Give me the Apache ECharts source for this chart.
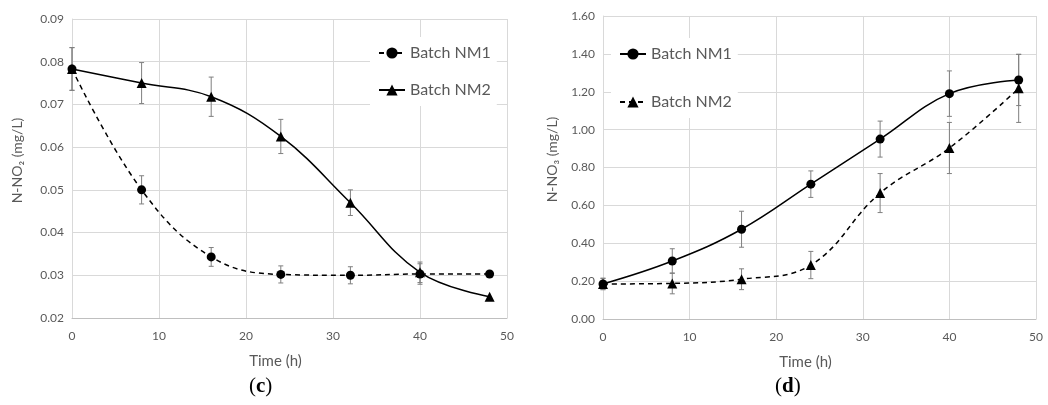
<!DOCTYPE html>
<html>
<head>
<meta charset="utf-8">
<script src="https://cdn.jsdelivr.net/npm/echarts@6/dist/echarts.min.js"></script>
<style>
  html, body { margin: 0; padding: 0; background: #fff; }
  #chart { width: 1048px; height: 405px; }
</style>
</head>
<body>
<div id="chart"></div>
<script>
// sampling times (h), shared by both panels
const hours = [0, 8, 16, 24, 32, 40, 48];

// panel (c): N-NO2
const no2Nm1 = [0.0783, 0.0500, 0.0343, 0.0302, 0.0300, 0.0303, 0.0303];
const no2Nm1Err = [0.0050, 0.0033, 0.0022, 0.0020, 0.0020, 0.0024, 0.0000];
const no2Nm2 = [0.0783, 0.0750, 0.0718, 0.0625, 0.0470, 0.0307, 0.0250];
const no2Nm2Err = [0.0050, 0.0048, 0.0046, 0.0040, 0.0030, 0.0024, 0.0000];

// panel (d): N-NO3
const no3Nm1 = [0.185, 0.306, 0.474, 0.712, 0.950, 1.190, 1.262];
const no3Nm1Err = [0.030, 0.065, 0.095, 0.070, 0.095, 0.120, 0.135];
const no3Nm2 = [0.185, 0.188, 0.210, 0.285, 0.665, 0.903, 1.218];
const no3Nm2Err = [0.030, 0.055, 0.055, 0.072, 0.103, 0.135, 0.180];

const FONT = 'Lato';
const GREY = '#595959';

const toPairs = (vals) => hours.map((h, i) => [h, vals[i]]);
const toErr = (vals, err) => hours.map((h, i) => [h, vals[i] - err[i], vals[i] + err[i]]);

function errorBars(idx, vals, err) {
  return {
    type: 'custom',
    xAxisIndex: idx,
    yAxisIndex: idx,
    silent: true,
    z: 1,
    data: toErr(vals, err),
    encode: { x: 0, y: [1, 2] },
    renderItem: (params, api) => {
      if (api.value(2) - api.value(1) <= 0) return null;
      const lo = api.coord([api.value(0), api.value(1)]);
      const hi = api.coord([api.value(0), api.value(2)]);
      const w = 2.5;
      const style = { stroke: '#7f7f7f', lineWidth: 1 };
      return {
        type: 'group',
        children: [
          { type: 'line', shape: { x1: lo[0], y1: lo[1], x2: hi[0], y2: hi[1] }, style },
          { type: 'line', shape: { x1: lo[0] - w, y1: lo[1], x2: lo[0] + w, y2: lo[1] }, style },
          { type: 'line', shape: { x1: hi[0] - w, y1: hi[1], x2: hi[0] + w, y2: hi[1] }, style }
        ]
      };
    }
  };
}

function lineSeries(name, idx, vals, symbol, dashed) {
  return {
    name,
    type: 'line',
    xAxisIndex: idx,
    yAxisIndex: idx,
    data: toPairs(vals),
    smooth: 0.4,
    symbol,
    symbolSize: symbol === 'triangle' ? 10 : 9,
    z: 3,
    itemStyle: { color: '#000' },
    lineStyle: { color: '#000', width: 1.5, type: dashed ? [5, 4] : 'solid' }
  };
}

function xAxis(idx) {
  return {
    type: 'value',
    gridIndex: idx,
    min: 0, max: 50, interval: 10,
    name: 'Time (h)',
    nameLocation: 'middle',
    nameGap: 36,
    nameTextStyle: { color: GREY, fontSize: 15, fontFamily: FONT, padding: [0, 28, 0, 0] },
    axisLine: { lineStyle: { color: '#bfbfbf' } },
    axisTick: { show: false },
    axisLabel: { color: GREY, fontSize: 12, fontFamily: FONT, margin: 12 },
    splitLine: { lineStyle: { color: '#d9d9d9' } }
  };
}

function yAxis(idx, name, min, max, step, gap) {
  return {
    type: 'value',
    gridIndex: idx,
    min, max, interval: step,
    name,
    nameLocation: 'middle',
    nameGap: gap,
    nameRotate: 90,
    nameTextStyle: { color: GREY, fontSize: 14, fontFamily: FONT, padding: [0, 0, 0, 16] },
    axisLine: { show: true, lineStyle: { color: '#d9d9d9' } },
    axisTick: { show: false },
    axisLabel: { color: GREY, fontSize: 12, fontFamily: FONT, margin: 8, formatter: (v) => v.toFixed(2) },
    splitLine: { lineStyle: { color: '#d9d9d9' } }
  };
}

function legend(names, left, top, gap) {
  return {
    data: names,
    orient: 'vertical',
    left, top,
    itemWidth: 26,
    itemHeight: 14,
    itemGap: gap,
    padding: [8, 6, 8, 8],
    backgroundColor: '#fff',
    selectedMode: false,
    formatter: (n) => n.slice(2),
    textStyle: { color: GREY, fontSize: 16, fontFamily: FONT, lineHeight: 14 }
  };
}

function panelLabel(letter, x) {
  return {
    type: 'text',
    left: x,
    top: 376,
    style: {
      text: '{n|(}{b|' + letter + '}{n|)}',
      rich: {
        n: { fontFamily: 'Liberation Serif', fontSize: 21, fill: '#000' },
        b: { fontFamily: 'Liberation Serif', fontSize: 21, fontWeight: 'bold', fill: '#000' }
      }
    }
  };
}

const chart = echarts.init(document.getElementById('chart'), null, { renderer: 'canvas' });

chart.setOption({
  backgroundColor: '#fff',
  animation: false,
  grid: [
    { left: 72, top: 19, width: 435, height: 299 },
    { left: 603, top: 16, width: 433, height: 303 }
  ],
  xAxis: [xAxis(0), xAxis(1)],
  yAxis: [
    yAxis(0, 'N-NO\u2082 (mg/L)', 0.02, 0.09, 0.01, 48),
    yAxis(1, 'N-NO\u2083 (mg/L)', 0, 1.6, 0.2, 44)
  ],
  legend: [
    legend(['c Batch NM1', 'c Batch NM2'], 370, 37, 21),
    legend(['d Batch NM1', 'd Batch NM2'], 611, 38, 32)
  ],
  graphic: [panelLabel('c', 249), panelLabel('d', 775)],
  series: [
    errorBars(0, no2Nm1, no2Nm1Err),
    errorBars(0, no2Nm2, no2Nm2Err),
    lineSeries('c Batch NM1', 0, no2Nm1, 'circle', true),
    lineSeries('c Batch NM2', 0, no2Nm2, 'triangle', false),
    errorBars(1, no3Nm1, no3Nm1Err),
    errorBars(1, no3Nm2, no3Nm2Err),
    lineSeries('d Batch NM1', 1, no3Nm1, 'circle', false),
    lineSeries('d Batch NM2', 1, no3Nm2, 'triangle', true)
  ]
});
</script>
</body>
</html>
